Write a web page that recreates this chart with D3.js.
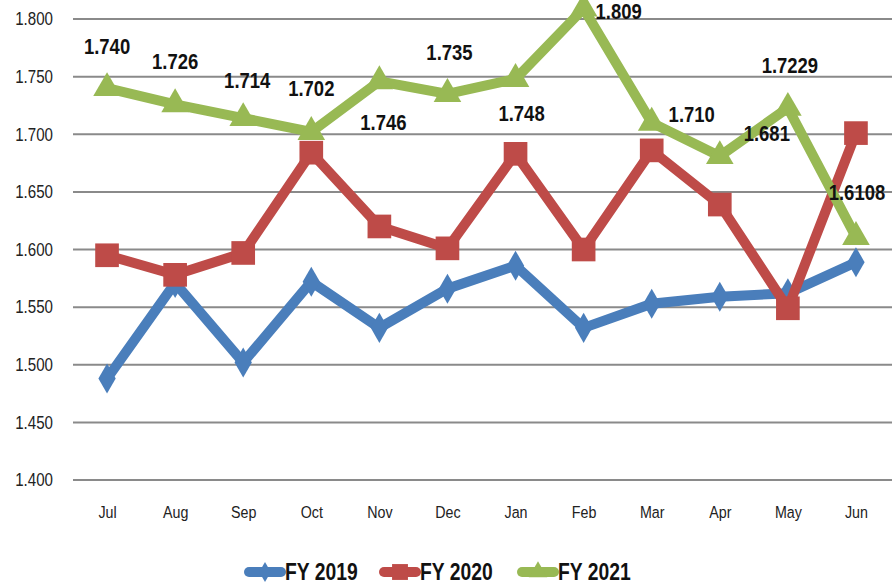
<!DOCTYPE html>
<html>
<head>
<meta charset="utf-8">
<script src="https://cdn.jsdelivr.net/npm/d3@7"></script>
<style>
  body { margin: 0; background: #fff; }
  svg text { font-family: "Liberation Sans", Arial, sans-serif; }
  .tick-label { font-size: 18px; fill: #222; }
  .month-label { font-size: 17px; fill: #222; }
  .data-label { font-size: 22px; font-weight: bold; fill: #111; }
  .legend-text { font-size: 23px; font-weight: bold; fill: #111; }
</style>
</head>
<body>
<div id="chart"></div>
<script>

//data
var months = ["Jul", "Aug", "Sep", "Oct", "Nov", "Dec", "Jan", "Feb", "Mar", "Apr", "May", "Jun"];
var fy2019 = [1.488, 1.571, 1.502, 1.572, 1.532, 1.566, 1.586, 1.532, 1.553, 1.559, 1.562, 1.589];
var fy2020 = [1.595, 1.578, 1.597, 1.684, 1.620, 1.601, 1.683, 1.600, 1.686, 1.639, 1.549, 1.701];
var fy2021 = [1.740, 1.726, 1.714, 1.702, 1.746, 1.735, 1.748, 1.809, 1.710, 1.681, 1.7229, 1.6108];
var fy2021Labels = ["1.740", "1.726", "1.714", "1.702", "1.746", "1.735", "1.748", "1.809", "1.710", "1.681", "1.7229", "1.6108"];
var yTicks = [1.400, 1.450, 1.500, 1.550, 1.600, 1.650, 1.700, 1.750, 1.800];

//label nudges for the FY 2021 values (pixels)
var labelDx = [0, 0, 4, 0, 4, 2, 6, 35, 40, 47, 2, 1];
var labelDy = [-42, -43, -38, -44, 41, -42, 34, 3, -8, -23, -43, -45];

var width = 892, height = 587;
var plot = {left: 73, right: 890, top: 19, bottom: 480};
var squeeze = 0.84;   // narrow the Arial-like glyphs to look like the condensed original

var svg = d3.select("#chart")
  .append("svg")
  .attr("width", width)
  .attr("height", height);

//scales
var xScale = d3.scalePoint()
  .domain(months)
  .range([plot.left, plot.right])
  .padding(0.5);

var yScale = d3.scaleLinear()
  .domain([1.4, 1.8])
  .range([plot.bottom, plot.top]);

//grid lines
svg.append("g")
  .selectAll("line")
  .data(yTicks)
  .enter()
  .append("line")
  .attr("x1", plot.left)
  .attr("x2", width)
  .attr("y1", function(d) { return yScale(d); })
  .attr("y2", function(d) { return yScale(d); })
  .style("stroke", "#8a8a8a")
  .style("stroke-width", 2);

//y axis labels
var yAxis = d3.axisLeft(yScale)
  .tickValues(yTicks)
  .tickFormat(d3.format(".3f"))
  .tickSize(0)
  .tickPadding(0);

svg.append("g")
  .attr("transform", "translate(53,0)")
  .call(yAxis)
  .call(function(g) { g.select(".domain").remove(); })
  .selectAll("text")
  .attr("class", "tick-label")
  .attr("font-family", null)
  .attr("font-size", null)
  .attr("fill", null)
  .attr("transform", "scale(" + squeeze + ",1)");

//x axis labels
var xAxis = d3.axisBottom(xScale)
  .tickSize(0)
  .tickPadding(26);

svg.append("g")
  .attr("transform", "translate(0," + plot.bottom + ")")
  .call(xAxis)
  .call(function(g) { g.select(".domain").remove(); })
  .selectAll("text")
  .attr("class", "month-label")
  .attr("font-family", null)
  .attr("font-size", null)
  .attr("fill", null)
  .attr("transform", "scale(" + squeeze + ",1)");

var series = [
  {name: "FY 2019", values: fy2019, color: "#4a7ebb", symbol: d3.symbolDiamond, size: 260},
  {name: "FY 2020", values: fy2020, color: "#be4b48", symbol: d3.symbolSquare, size: 560},
  {name: "FY 2021", values: fy2021, color: "#98b954", symbol: d3.symbolTriangle, size: 330}
];

var line = d3.line()
  .x(function(d, i) { return xScale(months[i]); })
  .y(function(d) { return yScale(d); });

series.forEach(function(s) {
  var g = svg.append("g");

  g.append("path")
    .datum(s.values)
    .attr("d", line)
    .style("fill", "none")
    .style("stroke", s.color)
    .style("stroke-width", 10)
    .style("stroke-linejoin", "miter");

  g.selectAll("path.marker")
    .data(s.values)
    .enter()
    .append("path")
    .attr("class", "marker")
    .attr("d", d3.symbol().type(s.symbol).size(s.size))
    .attr("transform", function(d, i) {
      return "translate(" + xScale(months[i]) + "," + yScale(d) + ")";
    })
    .style("fill", s.color);
});

//FY 2021 value labels
svg.append("g")
  .selectAll("text")
  .data(fy2021)
  .enter()
  .append("text")
  .attr("class", "data-label")
  .attr("transform", function(d, i) {
    return "translate(" + (xScale(months[i]) + labelDx[i]) + "," + (yScale(d) + labelDy[i]) + ") scale(" + squeeze + ",1)";
  })
  .attr("dy", "0.35em")
  .style("text-anchor", "middle")
  .text(function(d, i) { return fy2021Labels[i]; });

//legend
var legendX = [245, 380, 518];
var legend = svg.append("g")
  .selectAll("g")
  .data(series)
  .enter()
  .append("g")
  .attr("transform", function(d, i) { return "translate(" + legendX[i] + ",572)"; });

legend.append("line")
  .attr("x1", 4)
  .attr("x2", 36)
  .style("stroke", function(d) { return d.color; })
  .style("stroke-width", 10)
  .style("stroke-linecap", "round");

legend.append("path")
  .attr("d", function(d) { return d3.symbol().type(d.symbol).size(d.size * 0.45)(); })
  .attr("transform", "translate(20,0)")
  .style("fill", function(d) { return d.color; });

legend.append("text")
  .attr("class", "legend-text")
  .attr("transform", "translate(40,0) scale(" + squeeze + ",1)")
  .attr("dy", "0.36em")
  .text(function(d) { return d.name; });

</script>
</body>
</html>
